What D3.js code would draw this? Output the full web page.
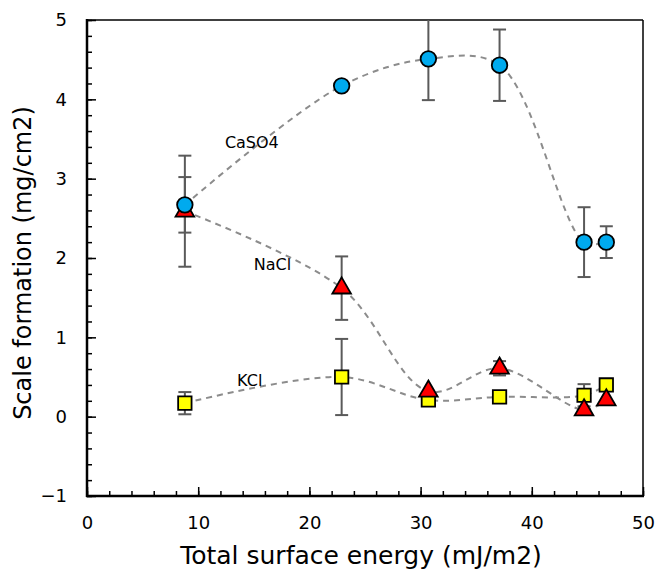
<!DOCTYPE html>
<html><head><meta charset="utf-8">
<script src="https://cdn.jsdelivr.net/npm/d3@7/dist/d3.min.js"></script>
<style>body{margin:0;background:#fff}svg{display:block}text{font-family:"DejaVu Sans",Verdana,sans-serif;fill:#000}</style>
</head><body><svg id="c" width="657" height="573"></svg>
<script>
// Data
const xEnergy = [8.8, 22.9, 30.7, 37.1, 44.7, 46.7];
const caso4 = [2.67, 4.17, 4.51, 4.43, 2.20, 2.20];
const caso4Err = [0.35, 0.0, 0.52, 0.45, 0.44, 0.20];
const nacl = [2.59, 1.62, 0.32, 0.61, 0.085, 0.21];
const naclErr = [0.70, 0.40, 0.0, 0.09, 0.0, 0.0];
const kcl = [0.17, 0.50, 0.21, 0.25, 0.27, 0.40];
const kclErr = [0.14, 0.48, 0.0, 0.0, 0.14, 0.04];
const xTicks = [0, 10, 20, 30, 40, 50];
const yTicks = [-1, 0, 1, 2, 3, 4, 5];
const seriesNames = ["KCl", "NaCl", "CaSO4"];

const svg = d3.select("#c");
const L = 87, R = 643, T = 20, B = 496;
const x = d3.scaleLinear().domain([0, 50]).range([L, R]);
const y = d3.scaleLinear().domain([-1, 5]).range([B, T]);

// frame (top/right thin)
svg.append("line").attr("x1", L).attr("x2", R).attr("y1", T).attr("y2", T).attr("stroke", "#000").attr("stroke-width", 1.5);
svg.append("line").attr("x1", R).attr("x2", R).attr("y1", T).attr("y2", B).attr("stroke", "#000").attr("stroke-width", 1.5);

// axes with inward ticks
const xMinor = d3.range(0, 50.01, 2);
const yMinor = d3.range(-1, 5.01, 0.2);
const gx = svg.append("g").attr("transform", `translate(0,${B})`);
gx.call(d3.axisBottom(x).tickValues(xMinor).tickSize(-5).tickFormat(""));
gx.select(".domain").remove();
const gx2 = svg.append("g").attr("transform", `translate(0,${B})`);
gx2.call(d3.axisBottom(x).tickValues(xTicks).tickSize(-9).tickPadding(20).tickFormat(d3.format("d")));
gx2.selectAll("text").attr("font-size", 18);
gx2.select(".domain").remove();

const gy = svg.append("g").attr("transform", `translate(${L},0)`);
gy.call(d3.axisLeft(y).tickValues(yMinor).tickSize(-5).tickFormat(""));
gy.select(".domain").remove();
const gy2 = svg.append("g").attr("transform", `translate(${L},0)`);
gy2.call(d3.axisLeft(y).tickValues(yTicks).tickSize(-9).tickPadding(20).tickFormat(d3.format("d")));
gy2.selectAll("text").attr("font-size", 18);
gy2.select(".domain").remove();
svg.selectAll(".tick line").attr("stroke", "#000").attr("stroke-width", 1.5);
svg.selectAll("g").attr("font-family", null).attr("font-size", null);

svg.append("line").attr("x1", L).attr("x2", L).attr("y1", T - 1).attr("y2", B + 1).attr("stroke", "#000").attr("stroke-width", 2.5);
svg.append("line").attr("x1", L - 1).attr("x2", R + 1).attr("y1", B).attr("y2", B).attr("stroke", "#000").attr("stroke-width", 2.5);

// clip
svg.append("clipPath").attr("id", "clip").append("rect").attr("x", L).attr("y", T).attr("width", R - L).attr("height", B - T);
const plot = svg.append("g").attr("clip-path", "url(#clip)");

const series = [
  {name: "KCl", vals: kcl, err: kclErr, shape: "square", fill: "#ffff00"},
  {name: "NaCl", vals: nacl, err: naclErr, shape: "triangle", fill: "#ff0000"},
  {name: "CaSO4", vals: caso4, err: caso4Err, shape: "circle", fill: "#00aaee"}
];

const line = d3.line().x(d => x(d[0])).y(d => y(d[1])).curve(d3.curveCatmullRom.alpha(0.5));
series.forEach(s => {
  plot.append("path").datum(xEnergy.map((v, i) => [v, s.vals[i]]))
    .attr("d", line).attr("fill", "none").attr("stroke", "#8c8c8c")
    .attr("stroke-width", 2).attr("stroke-dasharray", "6,5");
});

series.forEach(s => {
  xEnergy.forEach((v, i) => {
    const e = s.err[i];
    if (!e) return;
    const cx = x(v), y1 = y(s.vals[i] + e), y2 = y(s.vals[i] - e);
    plot.append("line").attr("x1", cx).attr("x2", cx).attr("y1", y1).attr("y2", y2).attr("stroke", "#5a5a5a").attr("stroke-width", 2);
    [y1, y2].forEach(yy => plot.append("line").attr("x1", cx - 6.5).attr("x2", cx + 6.5).attr("y1", yy).attr("y2", yy).attr("stroke", "#5a5a5a").attr("stroke-width", 2));
  });
});

const sym = {square: d3.symbolSquare, triangle: d3.symbolTriangle, circle: d3.symbolCircle};
const size = {square: 180, triangle: 150, circle: 190};
series.forEach(s => {
  xEnergy.forEach((v, i) => {
    plot.append("path").attr("d", d3.symbol(sym[s.shape], size[s.shape])())
      .attr("transform", `translate(${x(v)},${y(s.vals[i])})`)
      .attr("fill", s.fill).attr("stroke", "#000").attr("stroke-width", 1.8);
  });
});

// series labels
const labelPos = {CaSO4: [12.4, 3.39], NaCl: [15.0, 1.85], KCl: [13.5, 0.39]};
seriesNames.forEach(n => {
  svg.append("text").attr("x", x(labelPos[n][0])).attr("y", y(labelPos[n][1])).attr("font-size", 16).text(n);
});

// axis titles
svg.append("text").attr("x", 361).attr("y", 564).attr("text-anchor", "middle").attr("font-size", 25).text("Total surface energy (mJ/m2)");
svg.append("text").attr("transform", `translate(31,263) rotate(-90)`).attr("text-anchor", "middle").attr("font-size", 24).text("Scale formation (mg/cm2)");
</script></body></html>
